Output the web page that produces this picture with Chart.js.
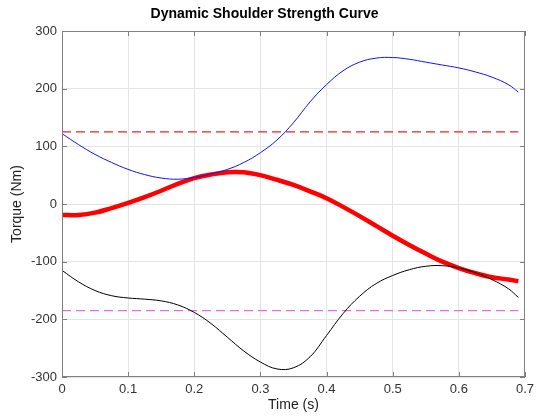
<!DOCTYPE html>
<html>
<head>
<meta charset="utf-8">
<script src="https://cdn.jsdelivr.net/npm/chart.js@4.4.1/dist/chart.umd.min.js"></script>
<style>
  body { margin: 0; background: #fff; }
</style>
</head>
<body>
<canvas id="chart" width="539" height="418"></canvas>
<script>
// --- Data ---
const timeS = [0, 0.025, 0.05, 0.075, 0.1, 0.125, 0.15, 0.175, 0.2, 0.225, 0.25, 0.275, 0.3, 0.325,
  0.35, 0.375, 0.4, 0.425, 0.45, 0.475, 0.5, 0.525, 0.55, 0.575, 0.6, 0.625, 0.65, 0.675, 0.69];

const blueTorque = [122, 103, 86, 72, 60, 51, 45, 43, 46, 52, 60, 72, 89, 111,
  141, 177, 207, 231, 246, 253, 254, 251, 246, 241, 236, 229, 220, 207, 194];

const redTorque = [-19, -19, -15, -7, 2, 12, 23, 35, 45, 51, 55, 55, 50, 42,
  33, 22, 10, -5, -21, -38, -55, -71, -86, -100, -111, -120, -127, -131, -134];

const blackTorque = [-115, -135, -150, -159, -163, -165, -168, -175, -188, -207, -231, -255, -274, -286,
  -284, -265, -228, -190, -160, -138, -124, -114, -108, -107, -111, -119, -131, -147, -162];

const upperLimit = 125;
const lowerLimit = -185;
const limitSpan = [0, 0.69];

const xTicks = [0, 0.1, 0.2, 0.3, 0.4, 0.5, 0.6, 0.7];
const yTicks = [-300, -200, -100, 0, 100, 200, 300];

const toPoints = (xs, ys) => xs.map((x, i) => ({ x, y: ys[i] }));
const flatLine = (v) => limitSpan.map(x => ({ x, y: v }));

const FONT = '"Liberation Sans", Arial, Helvetica, sans-serif';

// MATLAB-like box with inward ticks
const boxPlugin = {
  id: 'box',
  afterDatasetsDraw(chart) {
    const { ctx, chartArea: a, scales } = chart;
    ctx.save();
    ctx.strokeStyle = '#808080';
    ctx.lineWidth = 1;
    ctx.strokeRect(a.left + 0.5, a.top + 0.5, a.right - a.left - 1, a.bottom - a.top - 1);
    ctx.beginPath();
    xTicks.forEach(t => {
      const px = Math.round(scales.x.getPixelForValue(t)) + 0.5;
      ctx.moveTo(px, a.bottom); ctx.lineTo(px, a.bottom - 5);
      ctx.moveTo(px, a.top); ctx.lineTo(px, a.top + 5);
    });
    yTicks.forEach(t => {
      const py = Math.round(scales.y.getPixelForValue(t)) + 0.5;
      ctx.moveTo(a.left, py); ctx.lineTo(a.left + 5, py);
      ctx.moveTo(a.right, py); ctx.lineTo(a.right - 5, py);
    });
    ctx.stroke();
    ctx.restore();
  }
};

new Chart(document.getElementById('chart').getContext('2d'), {
  type: 'line',
  data: {
    datasets: [
      { data: toPoints(timeS, blueTorque), borderColor: '#1010ff', borderWidth: 1, pointRadius: 0, tension: 0.4 },
      { data: toPoints(timeS, blackTorque), borderColor: '#000000', borderWidth: 1, pointRadius: 0, tension: 0.4 },
      { data: toPoints(timeS, redTorque), borderColor: '#ff0000', borderWidth: 4.5, pointRadius: 0, tension: 0.4 },
      { data: flatLine(upperLimit), borderColor: '#e8231f', borderWidth: 1.3, borderDash: [9, 5], pointRadius: 0 },
      { data: flatLine(lowerLimit), borderColor: '#e070e0', borderWidth: 1.3, borderDash: [9, 5], pointRadius: 0 }
    ]
  },
  options: {
    responsive: false,
    animation: false,
    layout: { padding: { left: 0, right: 10, top: 0, bottom: 0 } },
    plugins: {
      legend: { display: false },
      tooltip: { enabled: false },
      title: {
        display: true,
        text: 'Dynamic Shoulder Strength Curve',
        color: '#000',
        font: { family: FONT, size: 14, weight: 'bold' },
        padding: { top: 6, bottom: 8.2 }
      }
    },
    scales: {
      x: {
        type: 'linear',
        min: 0, max: 0.7,
        afterFit: s => { s.height = 41; },
        afterBuildTicks: s => { s.ticks = xTicks.map(v => ({ value: v })); },
        grid: { color: '#e4e4e4', drawTicks: false },
        border: { display: false },
        ticks: { color: '#333', padding: 5, font: { family: FONT, size: 13 }, callback: v => String(v) },
        title: { display: true, text: 'Time (s)', color: '#222', font: { family: FONT, size: 14 }, padding: { top: 0, bottom: 4 } }
      },
      y: {
        min: -300, max: 300,
        afterFit: s => { s.width = 62; },
        afterBuildTicks: s => { s.ticks = yTicks.map(v => ({ value: v })); },
        grid: { color: '#e4e4e4', drawTicks: false },
        border: { display: false },
        ticks: { color: '#333', padding: 5, font: { family: FONT, size: 13 } },
        title: { display: true, text: 'Torque (Nm)', color: '#222', font: { family: FONT, size: 14 }, padding: { top: 9, bottom: 0 } }
      }
    }
  },
  plugins: [boxPlugin]
});
</script>
</body>
</html>
